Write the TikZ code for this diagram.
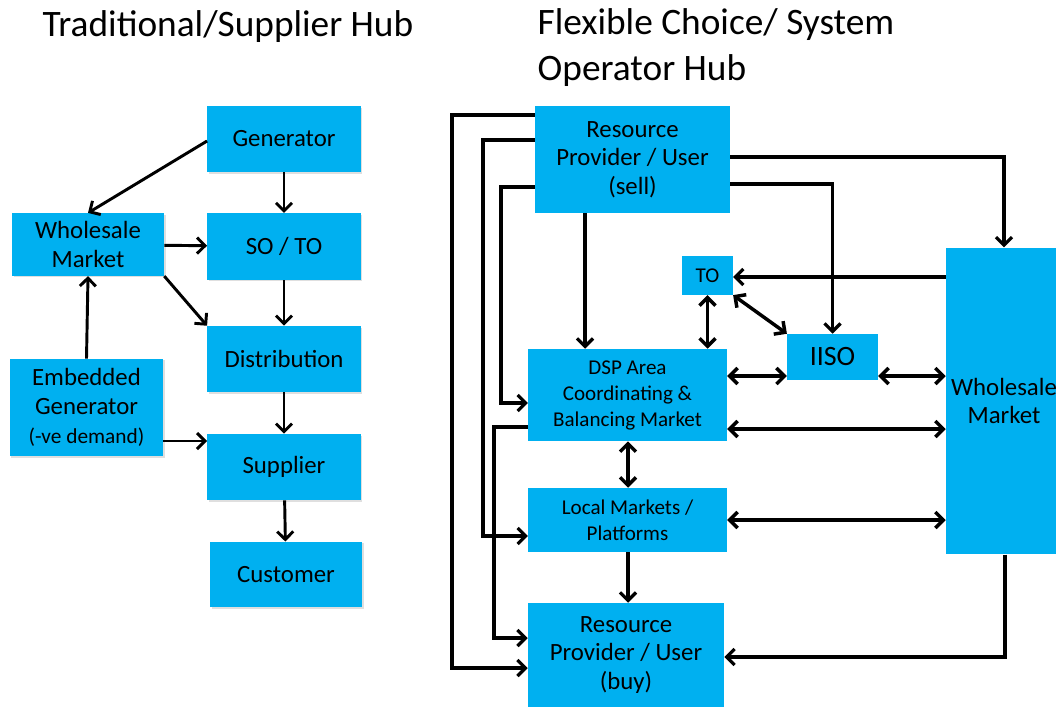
\documentclass[tikz,border=0pt]{standalone}
\usepackage{fontspec}
\setmainfont{Carlito}
\usetikzlibrary{arrows.meta, positioning, shadows}

\begin{document}
\begin{tikzpicture}[
    x=0.75pt, y=-0.75pt,
    blk/.style={fill={rgb,255:red,0;green,176;blue,240}, inner sep=0pt, align=center, font=\fontsize{18.6}{21.5}\selectfont},
    lblk/.style={blk, drop shadow={opacity=0.25, shadow xshift=1.2pt, shadow yshift=-1.2pt}},
    sblk/.style={blk, font=\fontsize{15.8}{19.5}\selectfont},
    ttl/.style={font=\fontsize{28}{34.5}\selectfont, align=left},
    arr/.style={line width=2.2pt, -{Straight Barb[length=6pt, width=12pt]}},
    rarr/.style={line width=2.4pt, -{Straight Barb[length=6pt, width=12pt]}},
    darr/.style={line width=2.6pt, {Straight Barb[length=6pt, width=12pt]}-{Straight Barb[length=6pt, width=12pt]}},
]
\useasboundingbox (0,0) rectangle (1056,708);

% === Traditional / supplier hub (left) ===
\node[ttl, anchor=center] (lefttitle) at (228,27) {Traditional/Supplier\ Hub};

\node[lblk, minimum width=115pt, minimum height=49.5pt] (gen) at (284,139) {Generator};
\node[lblk, minimum width=114pt, minimum height=47pt] (wsl) at (88,244.5) {Wholesale\\Market};
\node[lblk, minimum width=115pt, minimum height=50pt] (soto) at (284,246.5) {SO / TO};
\node[lblk, minimum width=115pt, minimum height=49.5pt] (dist) at (284,359) {Distribution};
\node[lblk, minimum width=115pt, minimum height=73pt] (emb) at (86.5,407.5) {Embedded\\Generator\\{\fontsize{16}{19}\selectfont(-ve demand)}};
\node[lblk, minimum width=115pt, minimum height=49.5pt] (supp) at (284,467) {Supplier};
\node[lblk, minimum width=114pt, minimum height=49pt] (cust) at (286,574.5) {Customer};

\draw[arr] (gen.west |- 0,141) -- (wsl.north);
\draw[arr] (gen) -- (soto);
\draw[arr] (wsl) -- (soto);
\draw[arr] (wsl.south east) -- (dist.north west);
\draw[arr] (emb.north) -- (wsl.south);
\draw[arr] (soto) -- (dist);
\draw[arr] (dist) -- (supp);
\draw[arr] (emb.east |- 0,441) -- (supp.west |- 0,441);
\draw[arr] (supp) -- (cust);

% === Flexible choice / system operator hub (right) ===
\node[ttl, anchor=north west] (righttitle) at (533,4) {Flexible Choice/ System\\Operator Hub};

\node[blk, minimum width=146pt, minimum height=80pt] (sell) at (632.5,159.5) {Resource\\Provider / User\\(sell)};
\node[sblk, minimum width=38pt, minimum height=29pt] (to) at (707.5,275.5) {TO};
\node[sblk, minimum width=149pt, minimum height=69pt] (dsp) at (627.5,395) {DSP Area\\Coordinating \&\\Balancing Market};
\node[blk, font=\fontsize{21}{25}\selectfont, minimum width=68pt, minimum height=34.5pt] (iiso) at (832.5,357) {IISO};
\node[blk, minimum width=87pt, minimum height=230pt] (wsr) at (1004,401) {Wholesale\\Market};
\node[sblk, minimum width=149pt, minimum height=48pt] (local) at (627.5,520) {Local Markets /\\Platforms};
\node[blk, minimum width=147pt, minimum height=78pt] (buy) at (626,655) {Resource\\Provider / User\\(buy)};

% feeders on the left side
\draw[rarr] (sell.west |- 0,115) -- (452,115) |- (buy.west |- 0,668);
\draw[rarr] (sell.west |- 0,140) -- (483,140) |- (local.west |- 0,536);
\draw[rarr] (sell.west |- 0,187) -- (501,187) |- (dsp.west |- 0,403);
\draw[rarr] (dsp.west |- 0,427) -- (494,427) |- (buy.west |- 0,638);

\draw[rarr] (sell.south -| 585,0) -- (dsp.north -| 585,0);
\draw[rarr] (sell.east |- 0,157) -| (wsr.north);
\draw[rarr] (sell.east |- 0,184) -| (iiso.north);
\draw[rarr] (wsr.west |- 0,277) -- (to.east |- 0,277);

\draw[darr] (to) -- (dsp.north -| to);
\draw[darr] (to.south east) -- (iiso.north west);
\draw[darr] (dsp.east |- 0,376) -- (iiso.west |- 0,376);
\draw[darr] (iiso.east |- 0,376) -- (wsr.west |- 0,376);
\draw[darr] (dsp.east |- 0,429) -- (wsr.west |- 0,429);
\draw[darr] (dsp.south -| 628,0) -- (local.north -| 628,0);
\draw[darr] (local.east |- 0,520) -- (wsr.west |- 0,520);
\draw[rarr] (local.south -| 628,0) -- (buy.north -| 628,0);
\draw[rarr] (wsr.south -| 1005,0) |- (buy.east |- 0,657);
\end{tikzpicture}
\end{document}
